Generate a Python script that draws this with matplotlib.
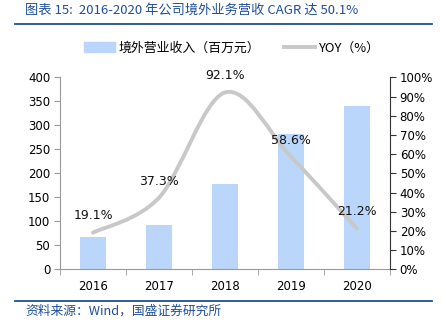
import numpy as np
import matplotlib.pyplot as plt
from matplotlib.path import Path
from matplotlib.patches import PathPatch, Patch
from matplotlib.lines import Line2D

plt.rcParams['font.family'] = ['DejaVu Sans', 'Noto Sans CJK SC']

years = ['2016', '2017', '2018', '2019', '2020']
revenue = [67, 92, 177, 281, 341]          # 境外营业收入（百万元）
yoy = [19.1, 37.3, 92.1, 58.6, 21.2]       # YOY (%)
yoy_labels = ['19.1%', '37.3%', '92.1%', '58.6%', '21.2%']

bar_color = '#bad6fb'
line_color = '#c8c8c8'
blue = '#1f4e9c'

fig = plt.figure(figsize=(4.46, 3.30), dpi=100)
ax = fig.add_axes([60/446, 1 - 269.3/330, 330/446, 192/330])
ax2 = ax.twinx()

x = np.arange(len(years))
ax.bar(x, revenue, width=0.39, color=bar_color, zorder=2)
ax.set_xlim(-0.5, 4.5)
ax.set_ylim(0, 400)
ax.set_yticks(range(0, 401, 50))
ax.set_xticks(x)
ax.set_xticklabels(years)
ax.set_xticks(np.arange(-0.5, 4.6, 1), minor=True)
ax.tick_params(axis='x', which='major', length=0, pad=8, labelsize=8.5)
ax.tick_params(axis='x', which='minor', length=4, color='#9a9a9a', direction='out')
ax.tick_params(axis='y', length=4, color='#9a9a9a', labelsize=8.5, pad=3)
for s in ['top', 'right']:
    ax.spines[s].set_visible(False)
ax.spines['left'].set_color('#9a9a9a')
ax.spines['bottom'].set_color('#9a9a9a')

# smoothed line (Catmull-Rom as Bezier, Excel style)
pts = np.column_stack([x, yoy]).astype(float)
verts = [tuple(pts[0])]
codes = [Path.MOVETO]
t = 1 / 6
for i in range(len(pts) - 1):
    p0 = pts[i - 1] if i > 0 else pts[i]
    p1, p2 = pts[i], pts[i + 1]
    p3 = pts[i + 2] if i + 2 < len(pts) else pts[i + 1]
    c1 = p1 + (p2 - p0) * t
    c2 = p2 - (p3 - p1) * t
    verts += [tuple(c1), tuple(c2), tuple(p2)]
    codes += [Path.CURVE4] * 3
ax2.add_patch(PathPatch(Path(verts, codes), fill=False, edgecolor=line_color,
                        lw=2.8, capstyle='round', zorder=3))
ax2.set_ylim(0, 100)
ax2.set_yticks(range(0, 101, 10))
ax2.set_yticklabels([f'{v}%' for v in range(0, 101, 10)])
ax2.tick_params(axis='y', length=4, color='#333333', labelsize=8.5, pad=3)
for s in ['top', 'left', 'bottom']:
    ax2.spines[s].set_visible(False)
ax2.spines['right'].set_color('#333333')

for xi, yi, lab in zip(x, yoy, yoy_labels):
    ax2.annotate(lab, (xi, yi), xytext=(0, 12), textcoords='offset points',
                 ha='center', va='center', fontsize=9, color='#111111', zorder=5)

# legend
handles = [Patch(color=bar_color), Line2D([0], [0], color=line_color, lw=2.8)]
fig.legend(handles, ['境外营业收入（百万元）', 'YOY（%）'],
           loc='center', bbox_to_anchor=(0.52, 1 - 48/330), ncol=2, frameon=False,
           handlelength=2.4, handleheight=0.8, handletextpad=0.3, columnspacing=1.8,
           prop={'family': ['Noto Sans CJK SC', 'DejaVu Sans'], 'size': 9.3})

# title and source
fig.text(25/446, 1 - 10/330, '图表 15:  2016-2020 年公司境外业务营收 CAGR 达 50.1%',
         color=blue, fontsize=9.5, style='italic', va='center',
         family=['Noto Sans CJK SC', 'DejaVu Sans'])
fig.add_artist(Line2D([15/446, 432/446], [1 - 24/330] * 2, color=blue, lw=1.3))
fig.add_artist(Line2D([15/446, 432/446], [1 - 301/330] * 2, color=blue, lw=1.3))
fig.text(25/446, 1 - 311/330, '资料来源：Wind，国盛证券研究所',
         color=blue, fontsize=9.2, style='italic', va='center',
         family=['Noto Sans CJK SC', 'DejaVu Sans'])

fig.savefig('out.png', dpi=100)
